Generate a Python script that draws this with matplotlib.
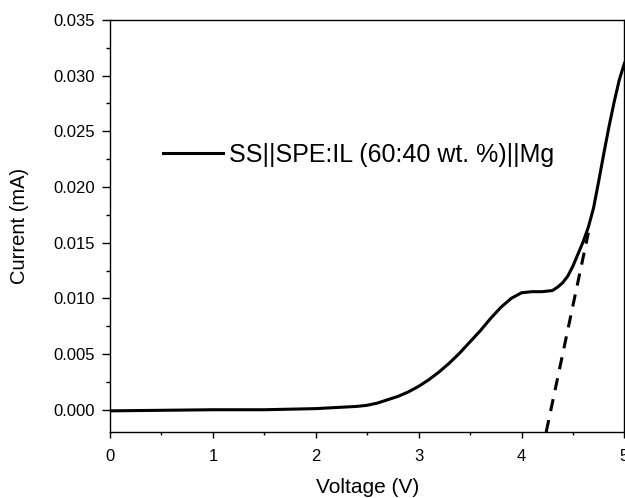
import numpy as np
import matplotlib
matplotlib.use("Agg")
import matplotlib.pyplot as plt
from matplotlib.ticker import MultipleLocator

plt.rcParams['font.family'] = ['Liberation Sans', 'DejaVu Sans']

# LSV curve
voltage = [0.0, 0.5, 1.0, 1.5, 2.0, 2.2, 2.4, 2.5, 2.6, 2.7, 2.8, 2.9, 3.0,
           3.1, 3.2, 3.3, 3.4, 3.5, 3.6, 3.7, 3.8, 3.9, 4.0, 4.1, 4.2, 4.3,
           4.35, 4.4, 4.45, 4.5, 4.55, 4.6, 4.65, 4.7, 4.75, 4.8, 4.85, 4.9,
           4.95, 5.0]
current = [-0.0001, -0.00005, 0.0, 0.0, 0.0001, 0.0002, 0.0003, 0.0004, 0.0006,
           0.0009, 0.0012, 0.0016, 0.0021, 0.0027, 0.0034, 0.0042, 0.0051,
           0.0061, 0.0071, 0.0082, 0.0092, 0.0100, 0.0105, 0.0106, 0.0106,
           0.0107, 0.0110, 0.0114, 0.0120, 0.0129, 0.0140, 0.0151, 0.0164,
           0.0181, 0.0205, 0.0230, 0.0254, 0.0276, 0.0296, 0.0311]

# tangent extrapolation (dashed)
tan_v = [4.24, 4.65]
tan_i = [-0.002, 0.0159]

label = "SS||SPE:IL (60:40 wt. %)||Mg"

fig = plt.figure(figsize=(6.25, 4.98), dpi=100)
ax = fig.add_axes([0.176, 0.1325, 0.823, 0.8275])

ax.plot(voltage, current, color='black', lw=2.2, label=label)
ax.plot(tan_v, tan_i, color='black', lw=2.2, ls=(0, (4, 3)))

ax.set_xlim(0, 5)
ax.set_ylim(-0.002, 0.035)
ax.xaxis.set_major_locator(MultipleLocator(1))
ax.xaxis.set_minor_locator(MultipleLocator(0.5))
ax.yaxis.set_major_locator(MultipleLocator(0.005))
ax.yaxis.set_minor_locator(MultipleLocator(0.0025))
ax.yaxis.set_major_formatter(plt.FormatStrFormatter('%.3f'))
ax.tick_params(axis='x', which='major', direction='out', length=4.5, width=1,
               labelsize=12, pad=8)
ax.tick_params(axis='x', which='minor', direction='out', length=2.5, width=1)
ax.tick_params(axis='y', which='major', direction='out', length=6, width=1,
               labelsize=12, pad=5)
ax.tick_params(axis='y', which='minor', direction='out', length=3, width=1)
for s in ax.spines.values():
    s.set_linewidth(1)

ax.set_xlabel("Voltage (V)", fontsize=15, labelpad=10)
ax.set_ylabel("Current (mA)", fontsize=14.5)
ax.yaxis.set_label_coords(-0.158, 0.5)

ax.legend(loc='center left', bbox_to_anchor=(0.103, 0.672), frameon=False,
          borderpad=0, borderaxespad=0,
          fontsize=18, handlelength=2.4, handletextpad=0.25)

fig.savefig("out.png", dpi=100)
